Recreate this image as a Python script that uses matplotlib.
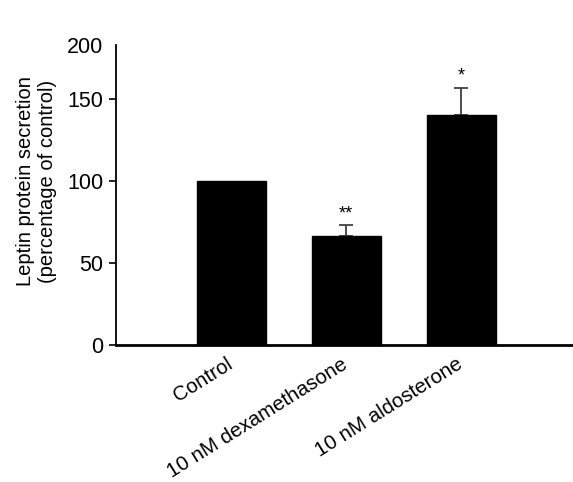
import matplotlib.pyplot as plt
import matplotlib.transforms as mtransforms

plt.rcParams['font.family'] = ['Liberation Sans', 'DejaVu Sans']

# Data
groups = ['Control', '10 nM dexamethasone', '10 nM aldosterone']
secretion = [100, 66.5, 140.5]
err_upper = [0, 6.5, 16.5]
stars = ['', '**', '*']

fig = plt.figure(figsize=(5.73, 4.82), dpi=100)
ax = fig.add_axes([0.2024, 0.2842, 0.7976, 0.6224])

x = list(range(len(groups)))
ax.bar(x, secretion, width=0.6, color='black', edgecolor='black', zorder=2)
ax.errorbar(x[1:], secretion[1:], yerr=[[0, 0], err_upper[1:]],
            fmt='none', ecolor='#404040', elinewidth=1.3, capsize=5, capthick=1.3, zorder=1)

for xi, top, e, s in zip(x, secretion, err_upper, stars):
    if s:
        ax.text(xi, top + e + 2, s, ha='center', va='bottom', fontsize=13)

ax.set_xlim(-1.0, 2.97)
top = 183
ax.set_ylim(0, top)
ax.set_yticks([0, 50, 100, 150, top])
ax.set_yticklabels(['0', '50', '100', '150', '200'], fontsize=15.5)
ax.set_xticks(x)
ax.set_xticklabels(groups, rotation=32, ha='right', rotation_mode='anchor', fontsize=14.8)
ax.tick_params(axis='x', length=0, pad=7)
ax.tick_params(axis='y', length=5, width=1.2, direction='out', pad=4)
ax.yaxis.get_major_ticks()[-1].tick1line.set_visible(False)

shift = mtransforms.ScaledTranslation(-5 / 100, 0, fig.dpi_scale_trans)
for lab in ax.get_xticklabels():
    lab.set_transform(lab.get_transform() + shift)

ax.set_ylabel('Leptin protein secretion\n(percentage of control)', fontsize=14.5,
              linespacing=1.15)
ax.yaxis.set_label_coords(-0.13, 0.545)

ax.spines['top'].set_visible(False)
ax.spines['right'].set_visible(False)
ax.spines['left'].set_linewidth(1.3)
ax.spines['bottom'].set_linewidth(2)

fig.savefig('out.png', dpi=100)
